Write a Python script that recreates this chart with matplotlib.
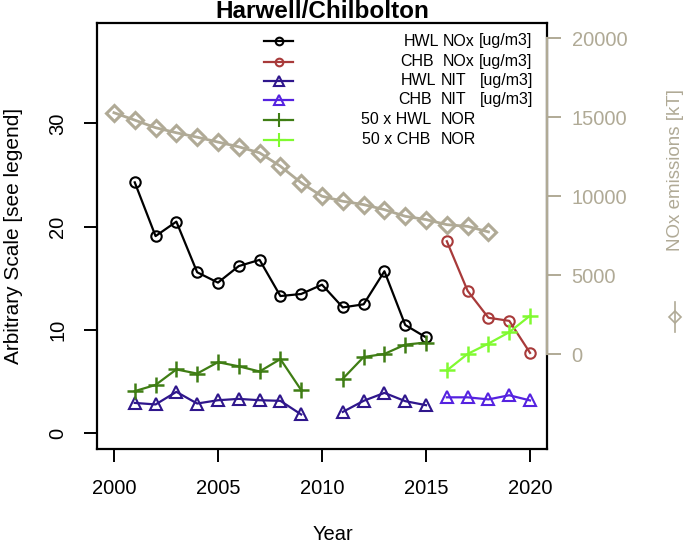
import matplotlib
matplotlib.use("Agg")
import matplotlib.pyplot as plt
import numpy as np
from matplotlib.lines import Line2D

plt.rcParams["font.family"] = ["Liberation Sans", "DejaVu Sans"]

# --- data ---
years_hwl = np.arange(2001, 2016)
hwl_nox = [24.3, 19.1, 20.5, 15.6, 14.6, 16.2, 16.8, 13.3, 13.5, 14.4, 12.2, 12.5, 15.7, 10.5, 9.3]
hwl_nit = [2.96, 2.81, 4.03, 2.90, 3.22, 3.35, 3.22, 3.16, 1.84, np.nan, 2.09, 3.16, 3.93, 3.13, 2.74]
hwl_nor = [4.1, 4.7, 6.2, 5.8, 6.9, 6.5, 6.0, 7.2, 4.2, np.nan, 5.3, 7.4, 7.7, 8.6, 8.8]

years_chb = np.arange(2016, 2021)
chb_nox = [18.6, 13.8, 11.2, 10.9, 7.8]
chb_nit = [3.5, 3.5, 3.3, 3.7, 3.2]
chb_nor = [6.1, 7.7, 8.7, 9.8, 11.4]

years_emis = np.arange(2000, 2019)
nox_emis = [15300, 14830, 14350, 14030, 13750, 13440, 13140, 12760, 11910, 10860,
            10010, 9690, 9480, 9160, 8740, 8530, 8210, 8100, 7750]

x_ticks = [2000, 2005, 2010, 2015, 2020]
left_ticks = [0, 10, 20, 30]
right_ticks = [0, 5000, 10000, 15000, 20000]

legend_rows = [
    (["HWL", "NOx", "[ug/m3]"], [404, 443, 479]),
    (["CHB", "NOx", "[ug/m3]"], [400, 443, 479]),
    (["HWL", "NIT", "[ug/m3]"], [401, 441, 480]),
    (["CHB", "NIT", "[ug/m3]"], [398, 441, 480]),
    (["50 x HWL", "NOR"], [361, 441]),
    (["50 x CHB", "NOR"], [362, 441]),
]

# --- styles ---
C_HWL_NOX = "#000000"
C_CHB_NOX = "#a83a3a"
C_HWL_NIT = "#2f168c"
C_CHB_NIT = "#5522e0"
C_HWL_NOR = "#3f7d14"
C_CHB_NOR = "#80fa30"
C_TAN = "#b0aa96"

W, H = 685, 550


def fx(px):
    return px / W


def fy(py):
    return 1 - py / H


fig = plt.figure(figsize=(W / 100, H / 100), dpi=100)
ax = fig.add_axes([fx(97.3), fy(449), fx(546.7) - fx(97.3), fy(22.7) - fy(449)])
ax2 = ax.twinx()

line_kw = dict(linewidth=1.6, markerfacecolor="none", markeredgewidth=1.5)
ax.plot(years_hwl, hwl_nox, color=C_HWL_NOX, marker="o", markersize=7.5, **line_kw)
ax.plot(years_chb, chb_nox, color=C_CHB_NOX, marker="o", markersize=7.5, **line_kw)
ax.plot(years_hwl, hwl_nit, color=C_HWL_NIT, marker="^", markersize=8, **line_kw)
ax.plot(years_chb, chb_nit, color=C_CHB_NIT, marker="^", markersize=8, **line_kw)
ax.plot(years_hwl, hwl_nor, color=C_HWL_NOR, marker="+", markersize=11,
        linewidth=1.6, markeredgewidth=1.8)
ax.plot(years_chb, chb_nor, color=C_CHB_NOR, marker="+", markersize=11,
        linewidth=1.6, markeredgewidth=1.8)

ax2.plot(years_emis, nox_emis, color=C_TAN, marker="D", markersize=8,
         markerfacecolor="none", markeredgewidth=2.2, linewidth=2.0)

ax.set_xlim(1999.2, 2020.8)
ax.set_ylim(-1.5, 39.75)
ax2.set_ylim(-6000, 21000)

ax.set_xticks(x_ticks)
ax.set_yticks(left_ticks)
ax2.set_yticks(right_ticks)

for s in ax.spines.values():
    s.set_linewidth(1.6)
for name in ["left", "top", "bottom"]:
    ax2.spines[name].set_visible(False)
ax2.spines["right"].set_color(C_TAN)
ax2.spines["right"].set_linewidth(1.6)
ax2.spines["right"].set_bounds(0, 20000)

ax.tick_params(axis="both", direction="out", length=9.5, width=1.4, labelsize=14.5, pad=12)
ax.tick_params(axis="y", labelrotation=90)
for lab in ax.get_yticklabels():
    lab.set_va("center")
ax2.tick_params(axis="y", direction="out", length=10, width=1.4, labelsize=14.5,
                colors=C_TAN, pad=8)

# titles and labels
fig.text(fx(322), fy(11), "Harwell/Chilbolton", ha="center", va="center",
         fontsize=17.5, fontweight="bold")
fig.text(fx(333), fy(535), "Year", ha="center", va="center", fontsize=14.5)
fig.text(fx(14), fy(236), "Arbitrary Scale [see legend]", ha="center", va="center",
         rotation=90, fontsize=15)
fig.text(fx(675), fy(170), "NOx emissions [kT]", ha="center", va="center",
         rotation=90, fontsize=13.5, color=C_TAN)
fig.add_artist(Line2D([fx(675), fx(675)], [fy(302), fy(332)], color=C_TAN, linewidth=1.2,
                      transform=fig.transFigure))
fig.add_artist(Line2D([fx(675)], [fy(317)], color=C_TAN, marker="D", markersize=6,
                      markerfacecolor="none", markeredgewidth=1.2, linestyle="none",
                      transform=fig.transFigure))

# legend (no frame)
legend_styles = [
    (C_HWL_NOX, "o", 5.5), (C_CHB_NOX, "o", 5.5),
    (C_HWL_NIT, "^", 6.5), (C_CHB_NIT, "^", 6.5),
    (C_HWL_NOR, "+", 10), (C_CHB_NOR, "+", 10),
]
row_y = [41, 61.5, 80.5, 99.5, 119.5, 139.5]
for (words, xs), (col, mk, ms), py in zip(legend_rows, legend_styles, row_y):
    fig.add_artist(Line2D([fx(264), fx(293)], [fy(py), fy(py)], color=col, linewidth=1.6,
                          transform=fig.transFigure))
    fig.add_artist(Line2D([fx(278.5)], [fy(py)], color=col, marker=mk, markersize=ms,
                          markerfacecolor="none", markeredgewidth=1.5, linestyle="none",
                          transform=fig.transFigure))
    for w, x0 in zip(words, xs):
        fig.text(fx(x0), fy(py), w, ha="left", va="center", fontsize=11.5)

fig.savefig("out.png", dpi=100)
